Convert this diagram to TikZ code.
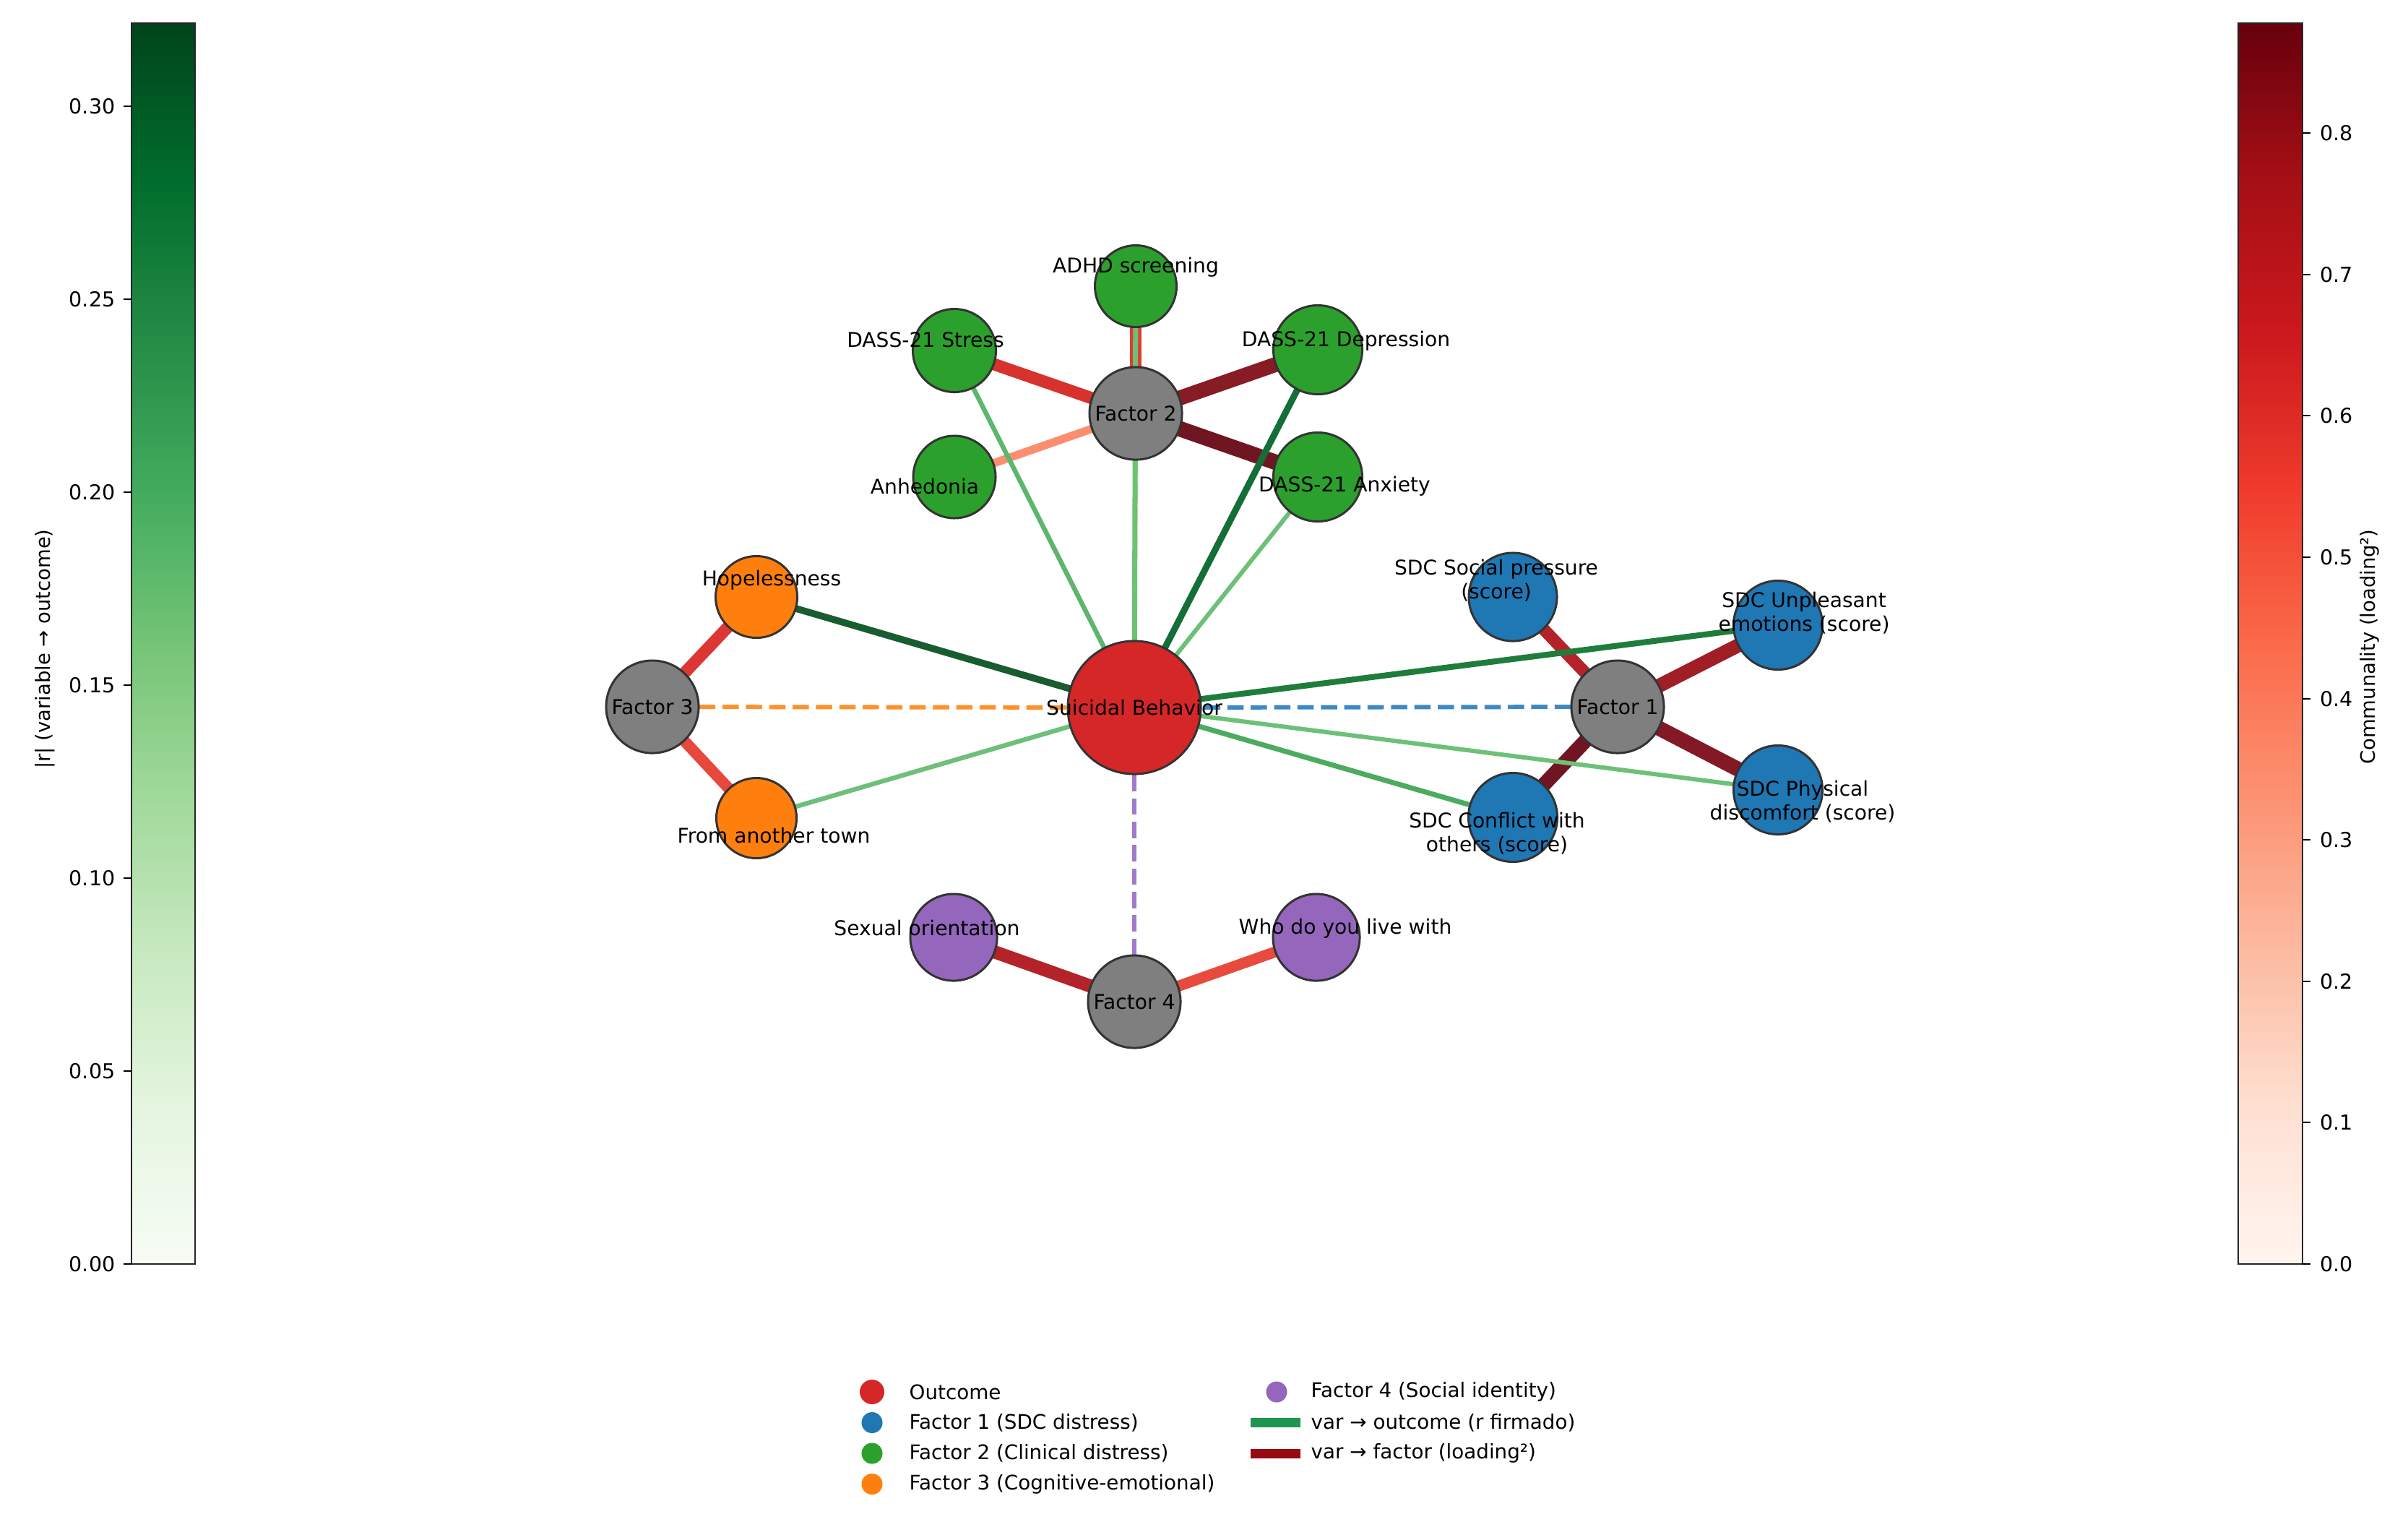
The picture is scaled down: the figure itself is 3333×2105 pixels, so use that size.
\documentclass[tikz,border=0pt]{standalone}
\usepackage{fontspec}
\setmainfont{DejaVu Sans}
\usetikzlibrary{positioning, backgrounds}
\definecolor{OutRed}{RGB}{214,39,40}
\definecolor{FacGray}{RGB}{127,127,127}
\definecolor{FOneBlue}{RGB}{31,119,180}
\definecolor{FTwoGreen}{RGB}{44,160,44}
\definecolor{FThreeOrange}{RGB}{255,127,14}
\definecolor{FFourPurple}{RGB}{148,103,189}
\definecolor{Rim}{RGB}{51,51,51}
% colour map stops
\definecolor{Gr0}{HTML}{F7FCF5}\definecolor{Gr1}{HTML}{E5F5E0}\definecolor{Gr2}{HTML}{C7E9C0}
\definecolor{Gr3}{HTML}{A1D99B}\definecolor{Gr4}{HTML}{74C476}\definecolor{Gr5}{HTML}{41AB5D}
\definecolor{Gr6}{HTML}{238B45}\definecolor{Gr7}{HTML}{006D2C}\definecolor{Gr8}{HTML}{00441B}
\definecolor{Rd0}{HTML}{FFF5F0}\definecolor{Rd1}{HTML}{FEE0D2}\definecolor{Rd2}{HTML}{FCBBA1}
\definecolor{Rd3}{HTML}{FC9272}\definecolor{Rd4}{HTML}{FB6A4A}\definecolor{Rd5}{HTML}{EF3B2C}
\definecolor{Rd6}{HTML}{CB181D}\definecolor{Rd7}{HTML}{A50F15}\definecolor{Rd8}{HTML}{67000D}
% loadings
\definecolor{LdADHD}{RGB}{225,60,50}
\definecolor{LdStress}{RGB}{215,50,45}
\definecolor{LdDepr}{RGB}{135,27,38}
\definecolor{LdAnx}{RGB}{112,22,35}
\definecolor{LdAnhed}{RGB}{252,142,112}
\definecolor{LdHope}{RGB}{220,55,52}
\definecolor{LdTown}{RGB}{230,72,62}
\definecolor{LdSocial}{RGB}{180,35,42}
\definecolor{LdUnpl}{RGB}{160,30,38}
\definecolor{LdPhys}{RGB}{132,25,38}
\definecolor{LdConfl}{RGB}{112,22,35}
\definecolor{LdSex}{RGB}{180,35,42}
\definecolor{LdWho}{RGB}{232,75,62}
% correlations
\definecolor{CrHope}{RGB}{24,92,48}
\definecolor{CrDepr}{RGB}{20,110,55}
\definecolor{CrUnpl}{RGB}{30,125,58}
\definecolor{CrConfl}{RGB}{75,172,95}
\definecolor{CrStress}{RGB}{92,182,110}
\definecolor{CrLight}{RGB}{108,192,120}
% factor -> outcome
\definecolor{DsOne}{RGB}{62,137,196}
\definecolor{DsTwo}{RGB}{110,195,110}
\definecolor{DsThree}{RGB}{255,145,45}
\definecolor{DsFour}{RGB}{160,122,204}
\definecolor{LegGreen}{RGB}{31,150,80}
\definecolor{LegRed}{RGB}{150,10,20}

\pgfdeclareverticalshading{greensbar}{100bp}{color(0bp)=(Gr0); color(25bp)=(Gr0); color(31.25bp)=(Gr1);
  color(37.5bp)=(Gr2); color(43.75bp)=(Gr3); color(50bp)=(Gr4); color(56.25bp)=(Gr5);
  color(62.5bp)=(Gr6); color(68.75bp)=(Gr7); color(75bp)=(Gr8); color(100bp)=(Gr8)}
\pgfdeclareverticalshading{redsbar}{100bp}{color(0bp)=(Rd0); color(25bp)=(Rd0); color(31.25bp)=(Rd1);
  color(37.5bp)=(Rd2); color(43.75bp)=(Rd3); color(50bp)=(Rd4); color(56.25bp)=(Rd5);
  color(62.5bp)=(Rd6); color(68.75bp)=(Rd7); color(75bp)=(Rd8); color(100bp)=(Rd8)}

\tikzset{
  vnode/.style={circle, draw=Rim, line width=0.85pt, inner sep=0pt, minimum size=1.18cm},
  fnode/.style={circle, draw=Rim, line width=0.85pt, inner sep=0pt, minimum size=1.28cm, fill=FacGray},
  lbl/.style={font=\fontsize{8}{9.4}\selectfont, align=center, inner sep=0pt},
  load/.style={line width=#1},
  corr/.style={line width=#1},
  fdash/.style={line width=1.7pt, dash pattern=on 6.4pt off 2.8pt},
  tick/.style={font=\fontsize{8.1}{10}\selectfont, inner sep=0pt},
  barlbl/.style={font=\fontsize{7.8}{9}\selectfont, rotate=90, inner sep=0pt},
  legdot/.style={circle, inner sep=0pt, minimum size=0.29cm},
  legbar/.style={rectangle, inner sep=0pt, minimum width=0.69cm, minimum height=0.13cm},
  legtxt/.style={font=\fontsize{7.9}{9.5}\selectfont, inner sep=0pt, anchor=west},
}

\begin{document}
\begin{tikzpicture}[x=0.01cm, y=-0.01cm]
    \useasboundingbox (0,0) rectangle (3333,2105);

    % outcome and factors
    \node[circle, draw=Rim, line width=0.85pt, inner sep=0pt, minimum size=1.84cm, fill=OutRed] (SB) at (1570,979) {};
    \node[fnode] (F1) at (2239,978) {};
    \node[fnode] (F2) at (1572,572) {};
    \node[fnode] (F3) at ( 903,978) {};
    \node[fnode] (F4) at (1570,1386) {};

    % variables
    \node[vnode, fill=FTwoGreen, minimum size=1.13cm] (ADHD)   at (1572,396) {};
    \node[vnode, fill=FTwoGreen, minimum size=1.15cm] (Stress) at (1321,485) {};
    \node[vnode, fill=FTwoGreen, minimum size=1.23cm] (Depr)   at (1824,484) {};
    \node[vnode, fill=FTwoGreen, minimum size=1.14cm] (Anhed)  at (1321,660) {};
    \node[vnode, fill=FTwoGreen, minimum size=1.23cm] (Anx)    at (1824,660) {};
    \node[vnode, fill=FThreeOrange, minimum size=1.13cm] (Hope) at (1047,826) {};
    \node[vnode, fill=FThreeOrange, minimum size=1.11cm] (Town) at (1047,1132) {};
    \node[vnode, fill=FOneBlue, minimum size=1.22cm] (Social) at (2094,826) {};
    \node[vnode, fill=FOneBlue, minimum size=1.23cm] (Unpl)   at (2461,865) {};
    \node[vnode, fill=FOneBlue, minimum size=1.23cm] (Phys)   at (2461,1093) {};
    \node[vnode, fill=FOneBlue, minimum size=1.23cm] (Confl)  at (2094,1131) {};
    \node[vnode, fill=FFourPurple, minimum size=1.2cm] (Sex) at (1320,1297) {};
    \node[vnode, fill=FFourPurple, minimum size=1.2cm] (Who) at (1822,1297) {};

    \begin{scope}[on background layer]
        \fill[white] (0,0) rectangle (3333,2105);
        % var -> factor
        \path[load=4.4pt,  LdADHD]   (ADHD.center)   edge (F2.center);
        \path[load=4.8pt,  LdStress] (Stress.center) edge (F2.center);
        \path[load=5.9pt,  LdDepr]   (Depr.center)   edge (F2.center);
        \path[load=6.1pt,  LdAnx]    (Anx.center)    edge (F2.center);
        \path[load=3.2pt,  LdAnhed]  (Anhed.center)  edge (F2.center);
        \path[load=4.7pt,  LdHope]   (Hope.center)   edge (F3.center);
        \path[load=4.4pt,  LdTown]   (Town.center)   edge (F3.center);
        \path[load=4.8pt,  LdSocial] (Social.center) edge (F1.center);
        \path[load=5.5pt,  LdUnpl]   (Unpl.center)   edge (F1.center);
        \path[load=5.9pt,  LdPhys]   (Phys.center)   edge (F1.center);
        \path[load=5.7pt,  LdConfl]  (Confl.center)  edge (F1.center);
        \path[load=5.2pt,  LdSex]    (Sex.center)    edge (F4.center);
        \path[load=4.3pt,  LdWho]    (Who.center)    edge (F4.center);
        % var -> outcome
        \path[corr=2.0pt,  CrLight]  (ADHD.center)   edge (SB.center);
        \path[corr=1.85pt, CrStress] (Stress.center) edge (SB.center);
        \path[corr=2.55pt, CrDepr]   (Depr.center)   edge (SB.center);
        \path[corr=1.7pt,  CrLight]  (Anx.center)    edge (SB.center);
        \path[corr=2.7pt,  CrHope]   (Hope.center)   edge (SB.center);
        \path[corr=1.8pt,  CrLight]  (Town.center)   edge (SB.center);
        \path[corr=2.3pt,  CrUnpl]   (Unpl.center)   edge (SB.center);
        \path[corr=1.7pt,  CrLight]  (Phys.center)   edge (SB.center);
        \path[corr=2.0pt,  CrConfl]  (Confl.center)  edge (SB.center);
        % factor -> outcome
        \path[fdash, DsOne]   (F1.center) edge (SB.center);
        \path[fdash, DsTwo]   (F2.center) edge (SB.center);
        \path[fdash, DsThree] (F3.center) edge (SB.center);
        \path[fdash, DsFour]  (F4.center) edge (SB.center);
    \end{scope}

    % labels
    \node[lbl] (lSB) at (SB) {Suicidal Behavior};
    \node[lbl] (lF1) at (F1) {Factor 1};
    \node[lbl] (lF2) at (F2) {Factor 2};
    \node[lbl] (lF3) at (F3) {Factor 3};
    \node[lbl] (lF4) at (F4) {Factor 4};
    \node[lbl] (lADHD)   at (1572,370)  {ADHD screening};
    \node[lbl] (lStress) at (1281,470)  {DASS-21 Stress};
    \node[lbl] (lDepr)   at (1863,472)  {DASS-21 Depression};
    \node[lbl] (lAnhed)  at (1280,673)  {Anhedonia};
    \node[lbl] (lAnx)    at (1861,673)  {DASS-21 Anxiety};
    \node[lbl] (lHope)   at (1068,803)  {Hopelessness};
    \node[lbl] (lTown)   at (1071,1156) {From another town};
    \node[lbl] (lSocial) at (2071,803)  {SDC Social pressure\\(score)};
    \node[lbl] (lUnpl)   at (2497,848)  {SDC Unpleasant\\emotions (score)};
    \node[lbl] (lPhys)   at (2495,1109) {SDC Physical\\discomfort (score)};
    \node[lbl] (lConfl)  at (2072,1153) {SDC Conflict with\\others (score)};
    \node[lbl] (lSex)    at (1283,1284) {Sexual orientation};
    \node[lbl] (lWho)    at (1862,1285) {Who do you live with};

    % colour bars
    \shade[shading=greensbar] (182,32) rectangle (270,1749);
    \draw[black!85, line width=0.65pt] (182,32) rectangle (270,1749);
    \foreach \y/\t in {1749/0.00, 1482/0.05, 1215/0.10, 948/0.15, 681/0.20, 414/0.25, 147/0.30} {
        \draw[line width=0.65pt] (171,\y) -- (182,\y);
        \node[tick, anchor=east] at (160,\y) {\t};
    }
    \node[barlbl] (gbar) at (62,898) {|r| (variable → outcome)};

    \shade[shading=redsbar] (3098,32) rectangle (3187,1749);
    \draw[black!85, line width=0.65pt] (3098,32) rectangle (3187,1749);
    \foreach \y/\t in {1749/0.0, 1553/0.1, 1358/0.2, 1162/0.3, 967/0.4, 771/0.5, 575/0.6, 380/0.7, 184/0.8} {
        \draw[line width=0.65pt] (3187,\y) -- (3198,\y);
        \node[tick, anchor=west] at (3211,\y) {\t};
    }
    \node[barlbl] (rbar) at (3280,895) {Communality (loading²)};

    % legend
    \node[legdot, fill=OutRed, minimum size=0.34cm] (mOut) at (1207,1926) {};
    \node[legdot, fill=FOneBlue]     (mOne)   at (1207,1968.5) {};
    \node[legdot, fill=FTwoGreen]    (mTwo)   at (1207,2011) {};
    \node[legdot, fill=FThreeOrange] (mThree) at (1207,2053.5) {};
    \node[legdot, fill=FFourPurple]  (mFour)  at (1767,1926) {};
    \node[legbar, fill=LegGreen]     (mCorr)  at (1765,1968.5) {};
    \node[legbar, fill=LegRed]       (mLoad)  at (1765,2011) {};
    \node[legtxt] (tOut)   at (1258,1926) {Outcome};
    \node[legtxt, below=0.425cm of tOut.west, anchor=west] (tOne) {Factor 1 (SDC distress)};
    \node[legtxt, below=0.425cm of tOne.west, anchor=west] (tTwo) {Factor 2 (Clinical distress)};
    \node[legtxt, below=0.425cm of tTwo.west, anchor=west] (tThree) {Factor 3 (Cognitive-emotional)};
    \node[legtxt] (tFour)  at (1814,1926) {Factor 4 (Social identity)};
    \node[legtxt, below=0.425cm of tFour.west, anchor=west] (tCorr) {var → outcome (r firmado)};
    \node[legtxt, below=0.425cm of tCorr.west, anchor=west] (tLoad) {var → factor (loading²)};
\end{tikzpicture}
\end{document}
